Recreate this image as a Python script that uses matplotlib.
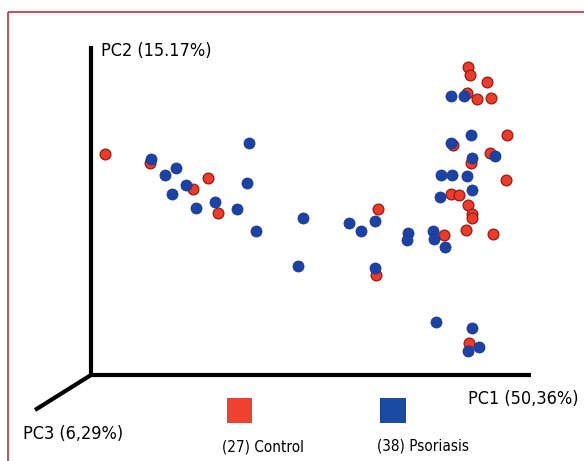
import matplotlib
matplotlib.use("Agg")
import matplotlib.pyplot as plt
from matplotlib import font_manager
from matplotlib.patches import Rectangle

# PCA scores (plot units = screen position)
control_pc1 = [105, 150, 208, 193, 218, 378, 376, 444, 451, 458.5, 468, 469.5, 487, 467,
               477, 491, 507, 452.5, 490, 470.5, 506, 468, 471.5, 471.5, 466, 492.5, 468.5]
control_pc2 = [154, 163, 178, 189, 213, 209, 274.5, 235, 194, 195, 67, 75, 82, 93,
               99, 98.5, 135, 145.5, 153, 163.3, 180, 205, 213.5, 218, 230, 234, 342.5]

psoriasis_pc1 = [151, 175.7, 165.3, 186, 172.3, 215, 196, 236.7, 247, 248.7, 256, 303.3, 349,
                 361, 375.3, 408, 407.3, 432.8, 433.7, 444.5, 298.3, 375, 440, 450.7, 464,
                 470.5, 450.7, 494.5, 471.7, 440.7, 451.7, 466.7, 471.7, 436, 472.3, 468, 478.5]
psoriasis_pc2 = [159, 168, 175.3, 185.3, 194, 201.7, 207.7, 209.3, 183.3, 142.7, 231.3, 218, 223,
                 231, 221, 232.5, 240, 230.5, 239.3, 247, 266, 267.5, 196.5, 96, 96,
                 135.5, 142.7, 156.5, 158.3, 175, 175, 175.7, 190.5, 322, 328, 351, 346.7]

groups = ["(27) Control", "(38) Psoriasis"]
axis_labels = ["PC1 (50,36%)", "PC2 (15.17%)", "PC3 (6,29%)"]

red = "#ec3b2b"
blue = "#1d42a6"

# narrow font if there is one, else Lato
names = {f.name for f in font_manager.fontManager.ttflist}
condensed = [f for f in font_manager.fontManager.ttflist
             if f.name == "DejaVu Sans" and "condensed" in str(f.stretch)]
if "Liberation Sans Narrow" in names:
    font = dict(family="Liberation Sans Narrow")
    big, small = 14, 12
elif condensed:
    font = dict(family="DejaVu Sans", stretch="condensed")
    big, small = 13, 11
else:
    font = dict(family="Lato")
    big, small = 13.5, 11.5

fig = plt.figure(figsize=(5.84, 4.61), dpi=100)
ax = fig.add_axes([0, 0, 1, 1])
ax.set_xlim(0, 584)
ax.set_ylim(461, 0)
ax.axis("off")

# frame
ax.add_patch(Rectangle((8, 12), 600, 480, fill=False, edgecolor="#c4303c", linewidth=1.2))

# pseudo 3D axes
ax.plot([91, 91], [46, 375], color="black", lw=3, solid_capstyle="butt")
ax.plot([90, 531], [375, 375], color="black", lw=3, solid_capstyle="butt")
ax.plot([91, 35], [375, 410], color="black", lw=3, solid_capstyle="butt")

ax.text(101, 51, axis_labels[1], fontsize=big, ha="left", va="center", **font)
ax.text(578, 399, axis_labels[0], fontsize=big, ha="right", va="center", **font)
ax.text(23, 434, axis_labels[2], fontsize=big, ha="left", va="center", **font)

ax.scatter(control_pc1, control_pc2, s=60, color=red, edgecolors="#9a1a10",
           linewidths=0.9, zorder=3)
ax.scatter(psoriasis_pc1, psoriasis_pc2, s=64, color=blue, edgecolors="#1a3590",
           linewidths=0.5, zorder=4)

# legend
ax.add_patch(Rectangle((227, 398), 25, 25, color="#ef4030", lw=0))
ax.add_patch(Rectangle((380, 398), 26, 25, color="#1a4aa2", lw=0))
ax.text(222, 447, groups[0], fontsize=small, ha="left", va="center", **font)
ax.text(377, 446, groups[1], fontsize=small, ha="left", va="center", **font)

fig.savefig("out.png", dpi=100)
